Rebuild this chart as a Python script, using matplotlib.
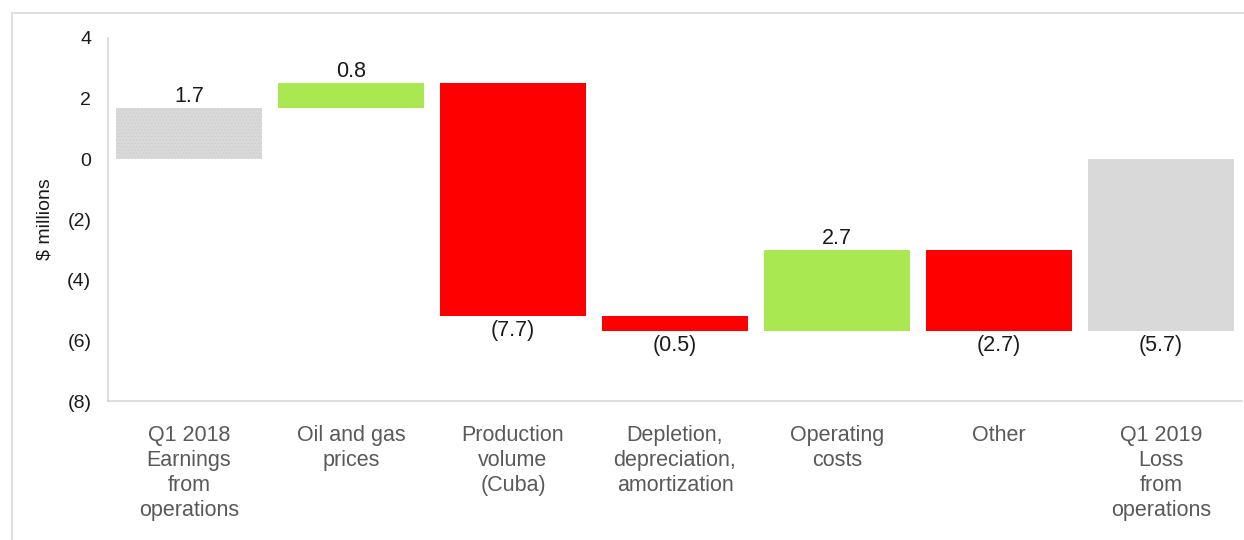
import matplotlib.pyplot as plt
import matplotlib.patches as mpatches
from matplotlib.ticker import FuncFormatter

plt.rcParams['font.family'] = ['Liberation Sans', 'DejaVu Sans']
plt.rcParams['hatch.linewidth'] = 0.6

# waterfall steps, $ millions
categories = ["Q1 2018\nEarnings\nfrom\noperations", "Oil and gas\nprices",
              "Production\nvolume\n(Cuba)", "Depletion,\ndepreciation,\namortization",
              "Operating\ncosts", "Other", "Q1 2019\nLoss\nfrom\noperations"]
changes = [1.7, 0.8, -7.7, -0.5, 2.7, -2.7]
total = -5.7
colors = ["#d9d9d9", "#a9e851", "#ff0000", "#ff0000", "#a9e851", "#ff0000", "#d9d9d9"]


def money(v, pos=None):
    if v < 0:
        return "({:g})".format(abs(v))
    return "{:g}".format(v)


fig = plt.figure(figsize=(12.44, 5.4), dpi=100)
fig.patches.append(mpatches.Rectangle((12 / 1244, -0.1), 1.2, 1 - 13 / 540 + 0.1,
                                      transform=fig.transFigure, fill=False,
                                      edgecolor="#d9d9d9", linewidth=1.2))
ax = fig.add_axes([108 / 1244, 1 - 401 / 540, 1134 / 1244, 363 / 540])

# running total to get bar bottoms
bottoms = []
heights = []
running = 0.0
for c in changes:
    if c >= 0:
        bottoms.append(running)
    else:
        bottoms.append(running + c)
    heights.append(abs(c))
    running += c
bottoms.append(total)
heights.append(abs(total))
values = changes + [total]

x = range(len(categories))
bars = ax.bar(x, heights, bottom=bottoms, width=0.9, color=colors, linewidth=0)
bars[0].set_hatch(".....")
bars[0].set_edgecolor("#cdcdcd")
bars[0].set_linewidth(0)

for i, v in enumerate(values):
    if v >= 0:
        ax.text(i, bottoms[i] + heights[i] + 0.03, money(v), ha="center", va="bottom",
                fontsize=15.5, color="#1a1a1a")
    else:
        ax.text(i, bottoms[i] - 0.12, money(v), ha="center", va="top",
                fontsize=15.5, color="#1a1a1a")

ax.set_xlim(-0.5, 6.5)
ax.set_ylim(-8, 4)
ax.set_yticks(range(-8, 5, 2))
ax.yaxis.set_major_formatter(FuncFormatter(money))
ax.set_xticks(list(x))
ax.set_xticklabels(categories, fontsize=15.5, color="#595959", linespacing=1.25)
ax.tick_params(axis="y", length=0, labelsize=14, labelcolor="#1a1a1a", pad=12)
ax.tick_params(axis="x", length=0, pad=17)
for s in ["top", "right"]:
    ax.spines[s].set_visible(False)
for s in ["left", "bottom"]:
    ax.spines[s].set_color("#d9d9d9")
    ax.spines[s].set_linewidth(1.2)
ax.set_ylabel("$ millions", fontsize=14, color="#1a1a1a", labelpad=10)

fig.savefig("out.png", dpi=100)
